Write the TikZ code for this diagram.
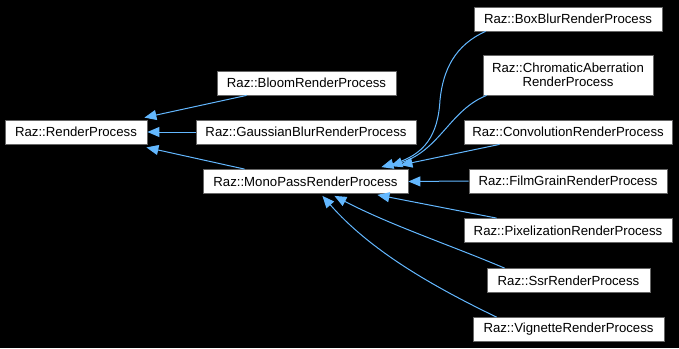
\documentclass[tikz,border=0pt]{standalone}
\usepackage{fontspec}
\setmainfont{Liberation Sans}
\usetikzlibrary{arrows.meta}
\definecolor{edgeblue}{HTML}{63B8FF}
\definecolor{boxline}{HTML}{666666}
\tikzset{
  cls/.style={draw=boxline, line width=0.8pt, fill=white, text=black, inner sep=0pt,
    minimum height=24pt, align=center,
    font=\fontsize{13.2}{14.5}\selectfont},
  inherit/.style={draw=edgeblue, line width=1pt,
    -{Triangle[length=12pt,width=10pt,fill=edgeblue]}},
}
\begin{document}
\begin{tikzpicture}[x=1pt,y=-1pt]
  \fill[black] (0,0) rectangle (679,348);
  \useasboundingbox (0,0) rectangle (679,348);

  % base classes
  \node[cls, minimum width=142pt] (rp) at (76,132) {Raz::RenderProcess};
  \node[cls, minimum width=179pt] (bloom) at (306.5,83) {Raz::BloomRenderProcess};
  \node[cls, minimum width=220pt] (gauss) at (306,132) {Raz::GaussianBlurRenderProcess};
  \node[cls, minimum width=205pt] (mono) at (305.5,181.5) {Raz::MonoPassRenderProcess};

  % mono pass subclasses
  \node[cls, minimum width=188pt] (boxblur) at (568,19) {Raz::BoxBlurRenderProcess};
  \node[cls, minimum width=170pt, minimum height=40pt] (chrom) at (568,75)
    {Raz::ChromaticAberration\\RenderProcess};
  \node[cls, minimum width=208pt] (conv) at (568,132) {Raz::ConvolutionRenderProcess};
  \node[cls, minimum width=198pt] (film) at (568,181) {Raz::FilmGrainRenderProcess};
  \node[cls, minimum width=208pt] (pix) at (568,230.5) {Raz::PixelizationRenderProcess};
  \node[cls, minimum width=163pt] (ssr) at (568.5,280.5) {Raz::SsrRenderProcess};
  \node[cls, minimum width=191pt] (vig) at (568.5,329.5) {Raz::VignetteRenderProcess};

  % inheritance towards RenderProcess
  \draw[inherit] ([xshift=30pt]bloom.south west) -- ([xshift=-3pt,yshift=2pt]rp.north east);
  \draw[inherit] (gauss.west) -- (rp.east);
  \draw[inherit] ([xshift=42pt]mono.north west) -- ([xshift=-1pt,yshift=-3pt]rp.south east);

  % inheritance towards MonoPassRenderProcess
  \draw[inherit] ([xshift=12pt]boxblur.south west)
    .. controls (455,45) and (443,70) .. (440,100)
    .. controls (438,135) and (425,155) .. ([xshift=-27pt,yshift=2pt]mono.north east);
  \draw[inherit] ([xshift=4pt]chrom.south west)
    .. controls (450,110) and (440,150) .. ([xshift=-18pt,yshift=3pt]mono.north east);
  \draw[inherit] ([xshift=36pt]conv.south west) -- ([xshift=-8pt,yshift=4pt]mono.north east);
  \draw[inherit] (film.west) -- (mono.east);
  \draw[inherit] ([xshift=33pt]pix.north west) -- ([xshift=-31pt,yshift=-1pt]mono.south east);
  \draw[inherit] ([xshift=18pt]ssr.north west)
    .. controls (450,245) and (390,225) .. ([xshift=-74pt,yshift=-2pt]mono.south east);
  \draw[inherit] ([xshift=24pt]vig.north west)
    .. controls (430,285) and (370,250) .. ([xshift=-86pt,yshift=-2pt]mono.south east);
\end{tikzpicture}
\end{document}
